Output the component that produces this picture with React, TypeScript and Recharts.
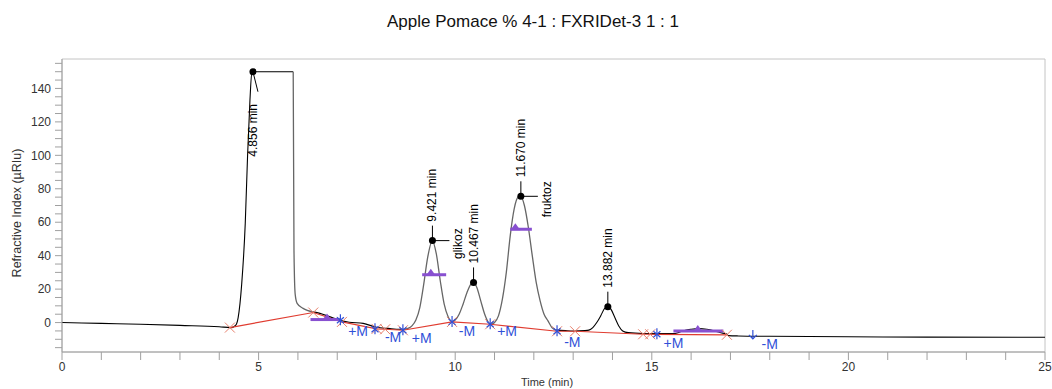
import { ComposedChart, Line, Scatter, XAxis, YAxis, ReferenceArea } from "recharts";

// detector trace (min, µRIU)
const traceTime = [
  0, 1, 2, 3, 4, 4.3, 4.42, 4.48, 4.57, 4.66, 4.72, 4.78, 4.83, 5.4, 5.88, 5.9, 5.93, 5.98, 6.13, 6.39,
  6.56, 6.82, 7.07, 7.3, 7.66, 8.0, 8.3, 8.6, 8.7, 8.8, 8.9, 9.0, 9.1, 9.2, 9.3, 9.42, 9.52, 9.62, 9.72,
  9.82, 9.92, 10.0, 10.1, 10.2, 10.3, 10.4, 10.47, 10.55, 10.65, 10.75, 10.85, 10.92, 11.0, 11.1, 11.2,
  11.3, 11.4, 11.5, 11.6, 11.67, 11.76, 11.86, 11.96, 12.06, 12.16, 12.26, 12.36, 12.46, 12.56, 12.8,
  13.0, 13.3, 13.4, 13.5, 13.6, 13.7, 13.8, 13.88, 13.96, 14.06, 14.16, 14.26, 14.4, 14.8, 15.2, 15.55,
  15.7, 15.85, 16.0, 16.2, 16.4, 16.6, 16.8, 16.9, 16.95, 17.2, 18, 20, 22, 25,
];
const traceSignal = [
  0, -0.5, -1, -1.7, -2.5, -3, -1.5, 3, 23, 59, 100, 133, 150, 150, 150, 43, 17, 11.5, 8.5, 6.4,
  5.5, 3.4, 1.4, 0.2, -0.5, -2.8, -3.5, -4, -4, -3.5, -2, 1.5, 9, 23, 39, 49, 41, 25, 11,
  3.5, 0.6, 1.5, 5, 11, 18, 23, 24, 21, 13, 5, 0, -1, 0, 4, 14,
  30, 52, 68, 75, 75.5, 70, 57, 40, 24, 13, 5, 1, -3, -4.5, -4.8,
  -5, -4.8, -4.5, -3, 0, 4, 8.5, 9.5, 8, 3, -2, -5, -6, -6.5, -6.6, -6.6,
  -5.8, -4.6, -4, -3.6, -4, -5, -6.3, -6.8, -7.8, -8, -8.2, -8.5, -8.7, -8.8,
];
const integratedRanges = [
  [5.88, 6.39],
  [8.7, 12.56],
];

// integration baseline
const baselineTime = [4.27, 6.39, 7.12, 8.0, 8.22, 8.67, 9.92, 10.89, 12.59, 13.05, 14.78, 14.96, 15.13, 16.91];
const baselineSignal = [-3, 6, 0.4, -3.8, -4, -4.6, 0.4, -1, -5.2, -5.2, -7, -7, -7.1, -7.3];
const crossTime = [4.27, 6.39, 7.12, 8.0, 8.22, 8.67, 9.92, 10.89, 12.59, 13.05, 14.78, 14.96, 16.91];
const crossSignal = [-3, 6, 0.4, -3.8, -4, -4.6, 0.4, -1, -5.2, -5.2, -7, -7, -7.3];
const starTime = [7.08, 7.96, 8.67, 9.92, 10.89, 12.59, 15.13];
const starSignal = [1.4, -4, -4.6, 0.4, -1, -5.2, -7];
const arrowTime = [17.57];
const arrowSignal = [-8];

const eventTime = [7.53, 8.42, 9.15, 10.3, 11.32, 12.98, 15.55, 18.0];
const eventSignal = [-5, -8.8, -9.4, -5, -5, -11.6, -12.4, -13];
const eventText = ["+M", "-M", "+M", "-M", "+M", "-M", "+M", "-M"];

const barStart = [6.32, 9.16, 11.4, 15.55];
const barEnd = [7.07, 9.77, 11.95, 16.82];
const barLevel = [1.8, 28.6, 55.8, -5];
const barMark = [6.74, 9.38, 11.53, 16.17];

const peakTime = [4.856, 9.421, 10.467, 11.67, 13.882];
const peakHeight = [150, 49, 24, 75.5, 9.5];
const peakLabel = ["4.856 min", "9.421 min", "10.467 min", "11.670 min", "13.882 min"];
const peakName = ["", "glikoz", "", "fruktoz", ""];

const xTicks = Array.from({ length: 26 }, (_, i) => i);
const yTicks = [-15, -10, -5, 0, 5, 10, 15, 20, 25, 30, 35, 40, 45, 50, 55, 60, 65, 70, 75, 80, 85, 90, 95, 100, 105, 110, 115, 120, 125, 130, 135, 140, 145, 150, 155];

const FONT = "'Liberation Sans', Arial, sans-serif";
const BLUE = "#3050d8";
const PURPLE = "#8850d0";

const inside = (t: number, strict: boolean) =>
  integratedRanges.some(([a, b]) => (strict ? t > a && t < b : t >= a && t <= b));

const traceRows = traceTime.map((t, i) => ({
  t,
  black: inside(t, true) ? null : traceSignal[i],
  grey: inside(t, false) ? traceSignal[i] : null,
}));
const baselineRows = baselineTime.map((t, i) => ({ t, v: baselineSignal[i] }));
const crossRows = crossTime.map((t, i) => ({ t, v: crossSignal[i] }));
const starRows = starTime.map((t, i) => ({ t, v: starSignal[i] }));
const arrowRows = arrowTime.map((t, i) => ({ t, v: arrowSignal[i] }));
const eventRows = eventTime.map((t, i) => ({ t, v: eventSignal[i], text: eventText[i] }));
const barRows = barStart.map((t, i) => [
  { t, v: barLevel[i] },
  { t: barEnd[i], v: barLevel[i] },
]);
const barMarkRows = barMark.map((t, i) => ({ t, v: barLevel[i] }));
const peakRows = peakTime.map((t, i) => ({ t, v: peakHeight[i], label: peakLabel[i], name: peakName[i] }));

function Cross(props: any) {
  const { cx, cy } = props;
  const s = 5;
  return (
    <g stroke="#e8806c" strokeWidth={1}>
      <line x1={cx - s} y1={cy - s} x2={cx + s} y2={cy + s} />
      <line x1={cx - s} y1={cy + s} x2={cx + s} y2={cy - s} />
    </g>
  );
}

function Star(props: any) {
  const { cx, cy } = props;
  return (
    <g stroke={BLUE} strokeWidth={1.2}>
      <line x1={cx} y1={cy - 6} x2={cx} y2={cy + 5} />
      <line x1={cx - 3.5} y1={cy - 3} x2={cx + 3.5} y2={cy + 3} />
      <line x1={cx - 3.5} y1={cy + 3} x2={cx + 3.5} y2={cy - 3} />
    </g>
  );
}

function Arrow(props: any) {
  const { cx, cy } = props;
  return (
    <g stroke={BLUE} strokeWidth={1.2} fill="none">
      <line x1={cx} y1={cy - 6} x2={cx} y2={cy + 3} />
      <polyline points={`${cx - 4},${cy - 1} ${cx},${cy + 3} ${cx + 4},${cy - 1}`} />
    </g>
  );
}

function EventText(props: any) {
  const { cx, cy, payload } = props;
  return (
    <text x={cx} y={cy} textAnchor="middle" dominantBaseline="central" fill={BLUE} fontSize={14} fontFamily={FONT}>
      {payload.text}
    </text>
  );
}

function Triangle(props: any) {
  const { cx, cy } = props;
  return <polygon points={`${cx - 5},${cy + 1} ${cx + 5},${cy + 1} ${cx},${cy - 6}`} fill={PURPLE} />;
}

function PeakMark(props: any) {
  const { cx, cy, payload } = props;
  const clipped = payload.v >= 150;
  const tx = cx + 4;
  const ty = clipped ? cy + 85 : cy - 19;
  return (
    <g fontFamily={FONT} fontSize={12} fill="#000">
      {clipped ? (
        <line x1={cx} y1={cy} x2={cx + 5} y2={cy + 20} stroke="#000" />
      ) : (
        <line x1={cx} y1={cy} x2={cx} y2={cy - 15} stroke="#000" />
      )}
      <circle cx={cx} cy={cy} r={3.5} fill="#000" />
      <text x={tx} y={ty} transform={`rotate(-90 ${tx} ${ty})`} textAnchor="start">
        {payload.label}
      </text>
      {payload.name ? (
        <g>
          <line x1={cx} y1={cy} x2={cx + 17} y2={cy} stroke="#000" />
          <text
            x={cx + 30}
            y={cy + 3}
            transform={`rotate(-90 ${cx + 30} ${cy + 3})`}
            textAnchor="middle"
          >
            {payload.name}
          </text>
        </g>
      ) : null}
    </g>
  );
}

export default function App() {
  return (
    <div style={{ position: "absolute", left: 0, top: 0, width: 1052, height: 389, background: "#fff", fontFamily: FONT }}>
      <div style={{ position: "absolute", left: 0, width: 1066, top: 12, textAlign: "center", fontSize: 17, color: "#111" }}>
        Apple Pomace % 4-1 : FXRIDet-3 1 : 1
      </div>
      <div
        style={{
          position: "absolute",
          left: 17,
          top: 213,
          transform: "translate(-50%, -50%) rotate(-90deg)",
          whiteSpace: "nowrap",
          fontSize: 12.5,
          color: "#333",
        }}
      >
        Refractive Index (µRIu)
      </div>
      <div style={{ position: "absolute", left: 547, top: 376, transform: "translateX(-50%)", fontSize: 11, color: "#333", whiteSpace: "nowrap" }}>
        Time (min)
      </div>
      <ComposedChart width={1052} height={389} data={traceRows} margin={{ top: 59, right: 7, bottom: 0, left: 0 }}>
        <ReferenceArea x1={0} x2={25} y1={-17.6} y2={157.6} fill="none" stroke="#c4c4c4" ifOverflow="extendDomain" />
        <XAxis
          type="number"
          dataKey="t"
          domain={[0, 25]}
          ticks={xTicks}
          interval={0}
          tickFormatter={(v: number) => (v % 5 === 0 ? String(v) : "")}
          height={37}
          tickSize={8}
          tickMargin={2}
          stroke="#a0a0a0"
          tick={{ fill: "#333", fontSize: 12, fontFamily: FONT }}
          allowDataOverflow
        />
        <YAxis
          type="number"
          domain={[-17.6, 157.6]}
          ticks={yTicks}
          interval={0}
          tickFormatter={(v: number) => (v % 20 === 0 ? String(v) : "")}
          width={62}
          tickSize={7}
          tickMargin={4}
          stroke="#a0a0a0"
          tick={{ fill: "#333", fontSize: 12, fontFamily: FONT }}
          allowDataOverflow
        />
        <Line type="monotone" dataKey="black" stroke="#000" strokeWidth={1.1} dot={false} isAnimationActive={false} connectNulls={false} />
        <Line type="monotone" dataKey="grey" stroke="#666" strokeWidth={1.3} dot={false} isAnimationActive={false} connectNulls={false} />
        <Line data={baselineRows} type="linear" dataKey="v" stroke="#e03c30" strokeWidth={1.2} dot={false} isAnimationActive={false} />
        {barRows.map((rows, i) => (
          <Line key={i} data={rows} type="linear" dataKey="v" stroke={PURPLE} strokeWidth={3} dot={false} isAnimationActive={false} />
        ))}
        <Scatter data={barMarkRows} dataKey="v" shape={Triangle} isAnimationActive={false} />
        <Scatter data={crossRows} dataKey="v" shape={Cross} isAnimationActive={false} />
        <Scatter data={starRows} dataKey="v" shape={Star} isAnimationActive={false} />
        <Scatter data={arrowRows} dataKey="v" shape={Arrow} isAnimationActive={false} />
        <Scatter data={eventRows} dataKey="v" shape={EventText} isAnimationActive={false} />
        <Scatter data={peakRows} dataKey="v" shape={PeakMark} isAnimationActive={false} />
      </ComposedChart>
    </div>
  );
}
